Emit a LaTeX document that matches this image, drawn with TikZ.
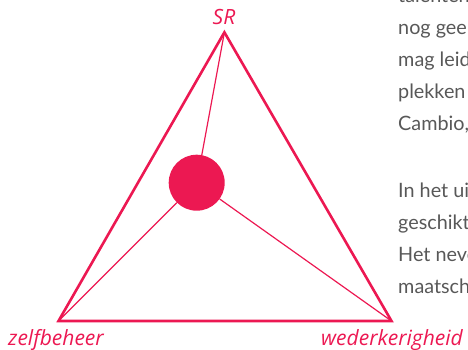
\documentclass[tikz,border=0pt]{standalone}
\usepackage{fontspec}
\setmainfont{Open Sans}
\newfontfamily\broodtekst{Lato}
\definecolor{roze}{RGB}{236,24,82}
\definecolor{tekstgrijs}{RGB}{88,88,88}
\begin{document}
\begin{tikzpicture}[x=1pt, y=-1pt,
    zijde/.style={draw=roze, line width=2.6pt, line join=miter},
    lijn/.style={draw=roze, line width=1.2pt},
    hoek/.style={text=roze, font=\fontsize{21}{21}\selectfont\itshape, inner sep=0pt},
    alinea/.style={text=tekstgrijs, font=\broodtekst\fontsize{19.8}{19.8}\selectfont, anchor=base west, inner sep=0pt}]
    \useasboundingbox (0,0) rectangle (468,350);
    \coordinate (sr) at (224.4,32.3);
    \coordinate (zb) at (58.5,321);
    \coordinate (wk) at (391.5,321);
    \draw[zijde] (sr) -- (wk) -- (zb) -- cycle;
    \node[circle, fill=roze, minimum size=56pt, inner sep=0pt] (punt) at (196.7,182.7) {};
    \draw[lijn] (punt) -- (sr);
    \draw[lijn] (punt) -- (zb);
    \draw[lijn] (punt) -- (wk);
    \node[hoek, anchor=base] (srlabel) at (224,25) {SR};
    \node[hoek, anchor=base west] (zblabel) at (8,345) {zelfbeheer};
    \node[hoek, anchor=base east] (wklabel) at (463,345) {wederkerigheid};
    \begin{scope}
      \clip (0,0) rectangle (468,350);
      \node[alinea] (r1) at (398,3) {talenten};
      \node[alinea] (r2) at (398,35) {nog gee};
      \node[alinea] (r3) at (398,67) {mag leid};
      \node[alinea] (r4) at (398,99) {plekken};
      \node[alinea] (r5) at (398,131) {Cambio,};
      \node[alinea] (r6) at (398,197) {In het ui};
      \node[alinea] (r7) at (398,229) {geschikt};
      \node[alinea] (r8) at (398,261) {Het neve};
      \node[alinea] (r9) at (398,293) {maatsch};
    \end{scope}
\end{tikzpicture}
\end{document}
